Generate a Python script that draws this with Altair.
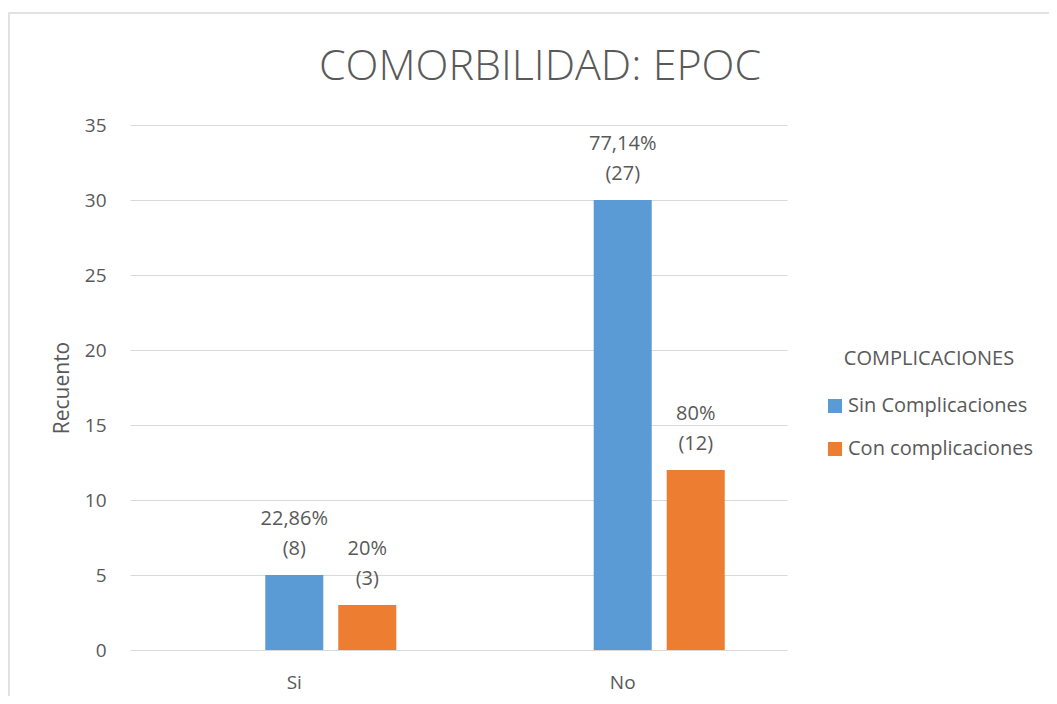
import altair as alt
import pandas as pd

chart_title = ["COMORBILIDAD: EPOC"]
categories = ["Si", "No"]
series = ["Sin Complicaciones", "Con complicaciones"]
sin_values = [5, 30]
con_values = [3, 12]
sin_labels = ["22,86%\n(8)", "77,14%\n(27)"]
con_labels = ["20%\n(3)", "80%\n(12)"]

rows = []
for i, c in enumerate(categories):
    rows.append({"cat": c, "serie": series[0], "valor": sin_values[i], "etiqueta": sin_labels[i]})
    rows.append({"cat": c, "serie": series[1], "valor": con_values[i], "etiqueta": con_labels[i]})
df = pd.DataFrame(rows)

TEXT = "#595959"
GRID = "#D9D9D9"
FONT = "Open Sans"
offset_domain = [" "] + series

x_enc = alt.X("cat:N", sort=categories, title=None,
              scale=alt.Scale(paddingInner=0.333, paddingOuter=0.1667),
              axis=alt.Axis(labelAngle=0, domain=False, ticks=False, labelPadding=23,
                            labelFontSize=19, labelColor=TEXT, labelFont=FONT))
xo_enc = alt.XOffset("serie:N", scale=alt.Scale(domain=offset_domain, paddingInner=0.205, paddingOuter=0.103))
y_enc = alt.Y("valor:Q", title="Recuento",
              scale=alt.Scale(domain=[0, 35], nice=False),
              axis=alt.Axis(values=[0, 5, 10, 15, 20, 25, 30, 35], domain=False, ticks=False,
                            gridColor=GRID, labelPadding=24, labelFontSize=19, labelColor=TEXT,
                            labelFont=FONT, titleFont=FONT, titleFontSize=21, titleColor=TEXT,
                            titleFontWeight="normal", titlePadding=12))

bars = alt.Chart(df).mark_bar().encode(
    x=x_enc, xOffset=xo_enc, y=y_enc,
    color=alt.Color("serie:N", scale=alt.Scale(domain=series, range=["#5B9BD5", "#ED7D31"]),
                    legend=alt.Legend(title="COMPLICACIONES", orient="none", legendX=695, legendY=224,
                                      symbolType="square", symbolSize=196, symbolStrokeWidth=0,
                                      labelFont=FONT, labelFontSize=20, labelColor=TEXT, labelLimit=400,
                                      titleFont=FONT, titleFontSize=20, titleColor=TEXT, titleLimit=400,
                                      titleFontWeight="normal", titleAnchor="middle",
                                      titlePadding=27, rowPadding=23, labelOffset=3)),
)

texts = alt.Chart(df).mark_text(baseline="bottom", dy=-46, lineBreak="\n", lineHeight=30,
                                fontSize=20, font=FONT, color=TEXT).encode(
    x=alt.X("cat:N", sort=categories), xOffset=alt.XOffset("serie:N"),
    y=alt.Y("valor:Q"), text="etiqueta:N")

frame = alt.Chart(pd.DataFrame({"k": [0]})).mark_rect(fill=None, stroke=GRID, strokeWidth=1.5, clip=False).encode(
    x=alt.value(-121), x2=alt.value(1000), y=alt.value(-112), y2=alt.value(700))

title_mark = alt.Chart(pd.DataFrame({"t": chart_title})).mark_text(
    fontSize=43, font=FONT, fontWeight=300, color=TEXT, align="center", baseline="alphabetic").encode(
    x=alt.value(410), y=alt.value(-45), text="t:N")

chart = alt.layer(frame, bars, texts, title_mark).properties(
    width=657, height=525,
    background="white",
    autosize=alt.AutoSizeParams(type="none"),
    padding={"left": 122, "top": 117, "right": 262, "bottom": 46},
).configure_view(stroke=None)

chart.save("out.html", embed_options={"renderer": "svg", "actions": False})
